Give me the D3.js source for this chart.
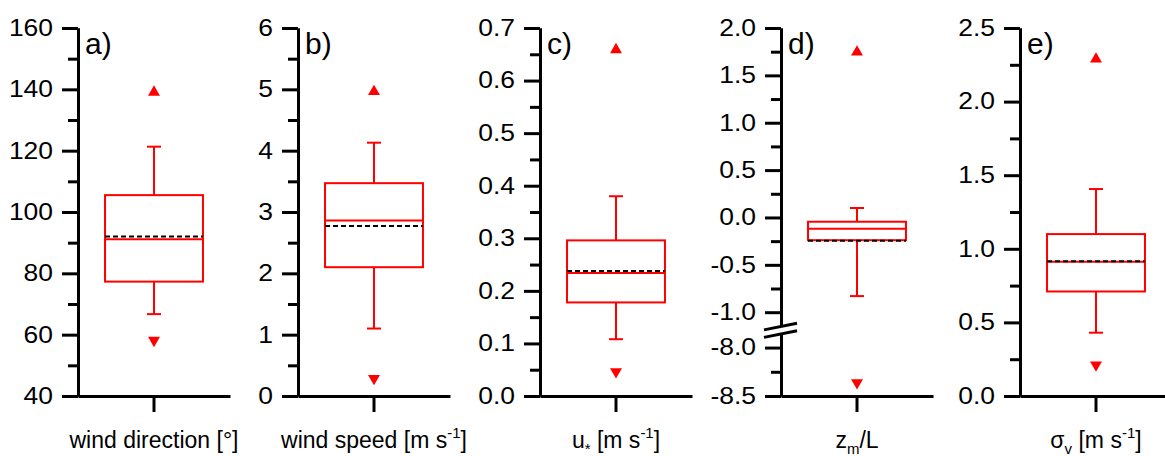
<!DOCTYPE html>
<html>
<head>
<meta charset="utf-8">
<script src="https://cdn.jsdelivr.net/npm/d3@7"></script>
<style>
  body { margin: 0; background: #fff; }
  svg { display: block; font-family: "Liberation Sans", Arial, sans-serif; }
</style>
</head>
<body>
<svg id="chart" width="1165" height="456"></svg>
<script>
// box statistics, one entry per panel
const letters = ["a)", "b)", "c)", "d)", "e)"]
const variables = ["wind direction", "wind speed", "u*", "zm/L", "sigma v"]
const minima = [57.6, 0.26, 0.043, -8.38, 0.20]
const whiskerLow = [66.7, 1.10, 0.108, -0.83, 0.43]
const q1 = [77.3, 2.10, 0.178, -0.24, 0.71]
const medians = [91.1, 2.86, 0.234, -0.12, 0.912]
const means = [92.0, 2.77, 0.238, -0.245, 0.915]
const q3 = [105.5, 3.47, 0.296, -0.045, 1.10]
const whiskerHigh = [121.3, 4.13, 0.380, 0.10, 1.406]
const maxima = [139.6, 4.99, 0.662, 1.764, 2.30]

// axis ticks
const majorTicks = [
  [40, 60, 80, 100, 120, 140, 160],
  [0, 1, 2, 3, 4, 5, 6],
  [0, 0.1, 0.2, 0.3, 0.4, 0.5, 0.6, 0.7],
  [-1.0, -0.5, 0.0, 0.5, 1.0, 1.5, 2.0],
  [0, 0.5, 1.0, 1.5, 2.0, 2.5]
]
const minorTicks = [
  [50, 70, 90, 110, 130, 150],
  [0.5, 1.5, 2.5, 3.5, 4.5, 5.5],
  [0.05, 0.15, 0.25, 0.35, 0.45, 0.55, 0.65],
  [-0.75, -0.25, 0.25, 0.75, 1.25, 1.75],
  [0.25, 0.75, 1.25, 1.75, 2.25]
]
const yDomains = [[40, 160], [0, 6], [0, 0.7], [-1.151, 2.0], [0, 2.5]]
// lower part of the broken axis in panel d
const lowerDomain = [-8.5, -7.86]
const lowerMajor = [-8.5, -8.0]
const lowerMinor = [-8.25]

// x-axis label pieces: normal text, sup or sub
const labelParts = [
  [["wind direction [°]"]],
  [["wind speed [m s"], ["-1", "sup"], ["]"]],
  [["u"], ["*", "sub"], [" [m s"], ["-1", "sup"], ["]"]],
  [["z"], ["m", "sub"], ["/L"]],
  [["σ"], ["v", "sub"], [" [m s"], ["-1", "sup"], ["]"]]
]
const tickFormats = ["d", "d", ".1f", ".1f", ".1f"]

const axisX = [78, 298, 540, 781, 1020]
const plotTop = 28, plotBottom = 396, plotWidth = 152
const majorLen = 16, minorLen = 10
const tickStretch = 1.15
const red = "#ff0000"

const locale = d3.formatLocale({decimal: ".", thousands: ",", grouping: [3], currency: ["", ""], minus: "-"})
const svg = d3.select("#chart")

function styleAxis(g){
  g.attr("font-size", 23).attr("font-family", null)
  g.select(".domain").attr("stroke-width", 3)
  g.selectAll(".tick line").attr("stroke-width", 3)
  g.selectAll(".tick text")
    .attr("fill", "#000")
    .attr("x", -(majorLen + 9) / tickStretch)
    .attr("transform", `scale(${tickStretch},1)`)
}

function drawYAxis(g, scale, major, minor, fmt){
  g.append("g")
    .call(d3.axisLeft(scale).tickValues(minor).tickSize(minorLen).tickSizeOuter(0).tickFormat(""))
    .call(a => a.select(".domain").attr("stroke-width", 3))
    .call(a => a.selectAll(".tick line").attr("stroke-width", 3))
  g.append("g")
    .call(d3.axisLeft(scale).tickValues(major).tickSize(majorLen).tickSizeOuter(0)
      .tickPadding(9).tickFormat(locale.format(fmt)))
    .call(styleAxis)
}

variables.forEach((name, i) => {
  const g = svg.append("g").attr("transform", `translate(${axisX[i]},0)`)

  const xs = d3.scaleBand().domain([name]).range([0, plotWidth]).paddingInner(0).paddingOuter(0.276)
  let y
  const yUpper = d3.scaleLinear().domain(yDomains[i]).range([plotBottom, plotTop])

  if(i === 3){
    // broken axis: upper segment ends above the gap, lower segment sits at the bottom
    yUpper.range([326.5, plotTop])
    const yLower = d3.scaleLinear().domain(lowerDomain).range([plotBottom, 334])
    y = v => v < -4 ? yLower(v) : yUpper(v)
    drawYAxis(g, yUpper, majorTicks[i], minorTicks[i], tickFormats[i])
    drawYAxis(g, yLower, lowerMajor, lowerMinor, tickFormats[i])
    // the two break slashes
    const gaps = [yUpper.range()[0], yLower.range()[1]]
    g.selectAll(".brk").data(gaps).join("line")
      .attr("x1", -17).attr("x2", 16)
      .attr("y1", d => d + 3.4).attr("y2", d => d - 3.3)
      .attr("stroke", "#000").attr("stroke-width", 3)
  }else{
    y = yUpper
    drawYAxis(g, yUpper, majorTicks[i], minorTicks[i], tickFormats[i])
  }

  // x axis
  g.append("g")
    .attr("transform", `translate(0,${plotBottom})`)
    .call(d3.axisBottom(xs).tickSize(majorLen).tickSizeOuter(0).tickFormat(""))
    .call(a => a.select(".domain").attr("stroke-width", 3))
    .call(a => a.selectAll(".tick line").attr("stroke-width", 3))

  const cx = xs(name) + xs.bandwidth() / 2
  const bw = xs.bandwidth()
  const capW = 14

  // whiskers
  const whisk = [[q3[i], whiskerHigh[i]], [q1[i], whiskerLow[i]]]
  g.selectAll(".whisker").data(whisk).join("line")
    .attr("x1", cx).attr("x2", cx)
    .attr("y1", d => y(d[0])).attr("y2", d => y(d[1]))
    .attr("stroke", red).attr("stroke-width", 2)
  g.selectAll(".cap").data(whisk).join("line")
    .attr("x1", cx - capW / 2).attr("x2", cx + capW / 2)
    .attr("y1", d => y(d[1])).attr("y2", d => y(d[1]))
    .attr("stroke", red).attr("stroke-width", 2)

  // box
  g.append("rect")
    .attr("x", xs(name)).attr("width", bw)
    .attr("y", y(q3[i])).attr("height", y(q1[i]) - y(q3[i]))
    .attr("fill", "none").attr("stroke", red).attr("stroke-width", 2)

  // median
  g.append("line")
    .attr("x1", xs(name)).attr("x2", xs(name) + bw)
    .attr("y1", y(medians[i])).attr("y2", y(medians[i]))
    .attr("stroke", red).attr("stroke-width", 2)

  // mean
  g.append("line")
    .attr("x1", xs(name)).attr("x2", xs(name) + bw)
    .attr("y1", y(means[i])).attr("y2", y(means[i]))
    .attr("stroke", "#000").attr("stroke-width", 2).attr("stroke-dasharray", "5,3")

  // max / min markers
  const tri = d3.symbol(d3.symbolTriangle, 62)
  g.append("path").attr("d", tri())
    .attr("transform", `translate(${cx},${y(maxima[i]) + 1.7})`)
    .attr("fill", red)
  g.append("path").attr("d", tri())
    .attr("transform", `translate(${cx},${y(minima[i]) - 1.7}) rotate(180)`)
    .attr("fill", red)

  // panel letter
  g.append("text")
    .attr("x", 7).attr("y", plotTop + 26)
    .attr("font-size", 30)
    .text(letters[i])

  // x label
  const lab = g.append("text")
    .attr("x", cx).attr("y", 448)
    .attr("text-anchor", "middle")
    .attr("font-size", 23)
  let shift = 0
  labelParts[i].forEach(([t, kind]) => {
    const target = kind === "sup" ? -10 : kind === "sub" ? 6 : 0
    lab.append("tspan")
      .attr("dy", target - shift)
      .attr("font-size", kind ? 15 : null)
      .text(t)
    shift = target
  })
})
</script>
</body>
</html>
